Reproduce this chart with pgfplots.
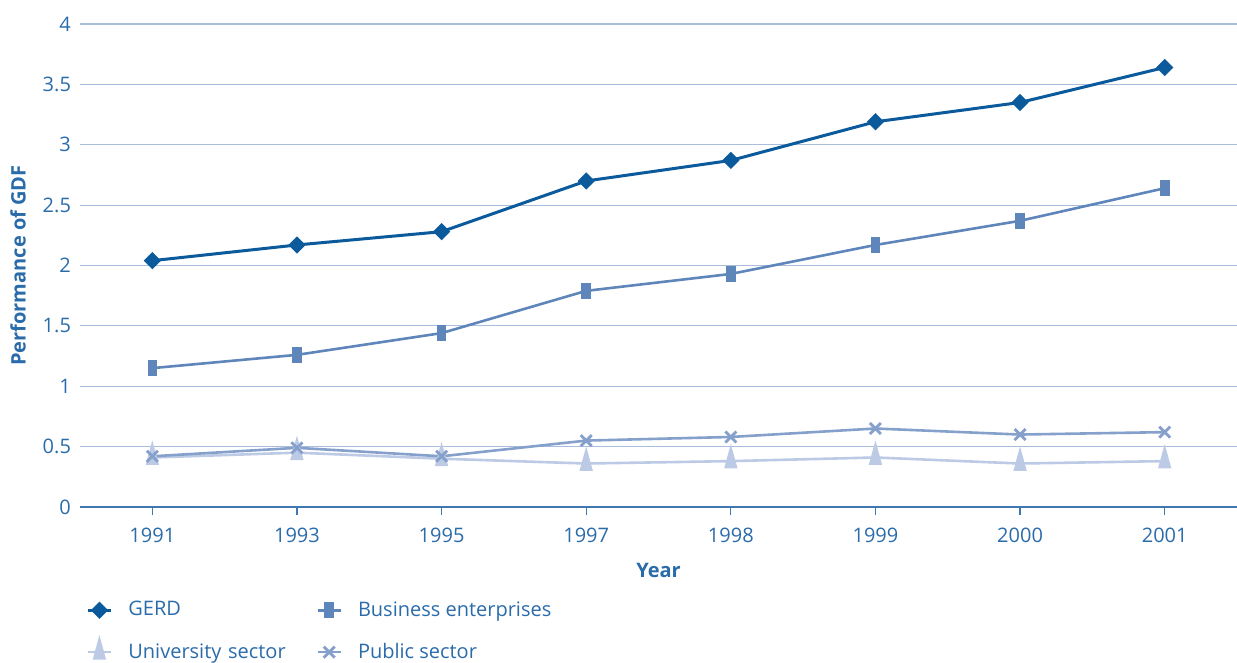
\documentclass[border=0pt]{standalone}
\usepackage{pgfplots}
\pgfplotsset{compat=1.18}
\usepackage{fontspec}
\setmainfont{Open Sans}
\usetikzlibrary{calc}
\definecolor{txtblue}{HTML}{2A6BAA}
\definecolor{gridblue}{HTML}{A9BEDD}
\definecolor{axisblue}{HTML}{3F78B0}
\definecolor{gerd}{HTML}{0A5A9C}
\definecolor{busi}{HTML}{5F86BB}
\definecolor{publ}{HTML}{86A0CC}
\definecolor{univ}{HTML}{BCCAE6}
\begin{document}
\begin{tikzpicture}
\begin{axis}[
  name=ax,
  scale only axis,
  width=578.5pt, height=241.5pt,
  xmin=-0.5, xmax=7.5, ymin=0, ymax=4,
  xtick={0,...,7},
  xticklabels={1991,1993,1995,1997,1998,1999,2000,2001},
  ytick={0,0.5,...,4},
  /pgf/number format/assume math mode=true,
  font=\fontsize{10pt}{12pt}\selectfont,
  ticklabel style={text=txtblue},
  axis line style={draw=none},
  axis x line*=bottom,
  axis y line*=left,
  x axis line style={draw=axisblue, line width=1pt},
  ymajorgrids, grid style={gridblue, line width=0.6pt},
  xtick style={draw=axisblue, line width=0.6pt},
  ytick style={draw=none},
  major tick length=4pt,
  xtick align=outside,
  xticklabel style={yshift=-3pt},
  yticklabel style={xshift=-1pt},
  xlabel={\bfseries Year},
  ylabel={\bfseries Performance of GDF},
  xlabel style={at={([yshift=-31.5pt]axis description cs:0.5,0)}, anchor=center, text=txtblue},
  ylabel style={at={([xshift=-31pt]axis description cs:0,0.5)}, anchor=center, text=txtblue},
  legend columns=2,
  legend cell align=left,
  legend style={draw=none, fill=none, at={([xshift=0pt,yshift=-43pt]axis description cs:0,0)}, anchor=north west,
    text=txtblue, row sep=8pt, column sep=6pt,
    /tikz/column 2/.style={text width=86pt}},
  legend image code/.code={\draw[#1,mark repeat=2,mark phase=2] plot coordinates {(0pt,0pt)(5.75pt,0pt)(11.5pt,0pt)};},
]
\addplot[gerd, line width=1.5pt, mark=square*, mark size=2.3pt, mark options={rotate=45}] coordinates {
(0,2.04)(1,2.17)(2,2.28)(3,2.70)(4,2.87)(5,3.19)(6,3.35)(7,3.64)};
\addlegendentry{GERD}
\addplot[busi, line width=1.3pt, mark=square*, mark size=3.25pt, mark options={xscale=0.54}] coordinates {
(0,1.15)(1,1.26)(2,1.44)(3,1.79)(4,1.93)(5,2.17)(6,2.37)(7,2.64)};
\addlegendentry{Business enterprises}
\addplot[univ, line width=1.3pt, mark=triangle*, mark size=3.8pt, mark options={xscale=0.76, yscale=1.6}] coordinates {
(0,0.41)(1,0.45)(2,0.40)(3,0.36)(4,0.38)(5,0.41)(6,0.36)(7,0.38)};
\addlegendentry{University sector}
\addplot[publ, line width=1.3pt, mark=x, mark size=3.9pt, mark options={line width=1.4pt}] coordinates {
(0,0.42)(1,0.49)(2,0.42)(3,0.55)(4,0.58)(5,0.65)(6,0.60)(7,0.62)};
\addlegendentry{Public sector}
\end{axis}
\pgfresetboundingbox
\path[use as bounding box] ($(ax.south west)+(-40pt,-77.5pt)$) rectangle ($(ax.north east)+(0,12pt)$);
\end{tikzpicture}
\end{document}
